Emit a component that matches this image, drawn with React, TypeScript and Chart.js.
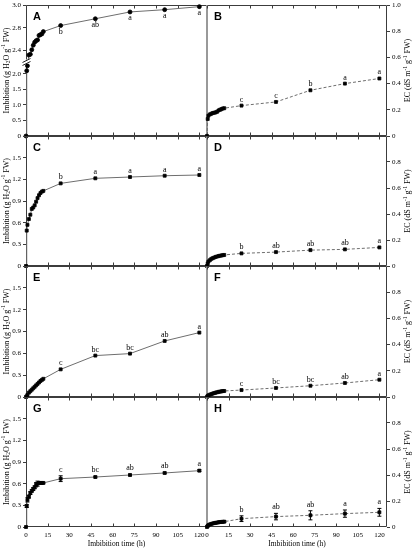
import React, { useEffect, useRef } from 'react';
import { Chart, registerables } from 'chart.js';
Chart.register(...registerables);

// ---------- data ----------
const hours = [0, 0.5, 1, 2, 3, 4, 5, 6, 7, 8, 9, 10, 11, 12, 24, 48, 72, 96, 120];
const xTickValues = [0, 15, 30, 45, 60, 75, 90, 105, 120];

const imbibitionA = [0, 2.1, 2.26, 2.34, 2.35, 2.41, 2.47, 2.51, 2.53, 2.54, 2.6, 2.61, 2.62, 2.65, 2.73, 2.82, 2.91, 2.94, 2.98];
const ecB = [0, 0.13, 0.155, 0.165, 0.17, 0.175, 0.178, 0.18, 0.185, 0.195, 0.2, 0.205, 0.21, 0.212, 0.232, 0.26, 0.349, 0.4, 0.439];
const imbibitionC = [0, 0.49, 0.57, 0.65, 0.71, 0.79, 0.81, 0.84, 0.89, 0.94, 0.98, 1.01, 1.03, 1.04, 1.144, 1.214, 1.232, 1.25, 1.26];
const ecD = [0, 0.02, 0.035, 0.045, 0.055, 0.06, 0.065, 0.07, 0.073, 0.076, 0.079, 0.081, 0.083, 0.085, 0.097, 0.107, 0.122, 0.128, 0.143];
const imbibitionE = [0, 0.01, 0.03, 0.06, 0.08, 0.1, 0.12, 0.14, 0.16, 0.18, 0.2, 0.22, 0.235, 0.25, 0.38, 0.569, 0.596, 0.77, 0.885];
const ecF = [0, 0.008, 0.012, 0.018, 0.022, 0.026, 0.03, 0.033, 0.036, 0.039, 0.041, 0.043, 0.045, 0.046, 0.053, 0.069, 0.086, 0.107, 0.132];
const imbibitionG = [0, 0.29, 0.376, 0.42, 0.47, 0.5, 0.525, 0.55, 0.585, 0.6, 0.61, 0.61, 0.61, 0.61, 0.669, 0.692, 0.72, 0.748, 0.78];
const ecH = [0, 0.008, 0.014, 0.02, 0.024, 0.027, 0.03, 0.032, 0.034, 0.036, 0.038, 0.039, 0.04, 0.041, 0.064, 0.08, 0.09, 0.103, 0.113];

const errG = [0, 0.02, 0.03, 0.02, 0.02, 0.015, 0.02, 0.02, 0.03, 0.035, 0.02, 0.015, 0.01, 0.01, 0.04, 0.01, 0.01, 0.01, 0.012];
const errH = [0, 0.003, 0.004, 0.004, 0.005, 0.005, 0.005, 0.006, 0.006, 0.006, 0.006, 0.006, 0.006, 0.007, 0.022, 0.025, 0.035, 0.028, 0.03];

const lettersA = ['b', 'ab', 'a', 'a', 'a'];
const lettersB = ['c', 'c', 'b', 'a', 'a'];
const lettersC = ['b', 'a', 'a', 'a', 'a'];
const lettersD = ['b', 'ab', 'ab', 'ab', 'a'];
const lettersE = ['c', 'bc', 'bc', 'ab', 'a'];
const lettersF = ['c', 'bc', 'bc', 'ab', 'a'];
const lettersG = ['c', 'bc', 'ab', 'ab', 'a'];
const lettersH = ['b', 'ab', 'ab', 'a', 'a'];

const tickValuesA = [0, 0.5, 1.0, 1.5, 2.0, 2.4, 2.7, 3.0];
const tickLabelsA = ['0', '0.5', '1.0', '1.5', '2.0', '2.4', '2.8', '3.0'];
const tickValuesImb = [0, 0.3, 0.6, 0.9, 1.2, 1.5, 1.8];
const tickLabelsImb = ['0', '0.3', '0.6', '0.9', '1.2', '1.5', ''];
const tickValuesEC = [0, 0.2, 0.4, 0.6, 0.8, 1.0];
const tickLabelsECTop = ['0', '0.2', '0.4', '0.6', '0.8', '1.0'];
const tickLabelsEC = ['0', '0.2', '0.4', '0.6', '0.8', ''];

type Seg = { t: string; k: number };
const imbTitle: Seg[] = [
  { t: 'Imbibition (g H', k: 0 }, { t: '2', k: -1 }, { t: 'O g', k: 0 }, { t: '-1', k: 1 }, { t: ' FW)', k: 0 },
];
const ecTitle: Seg[] = [
  { t: 'EC (dS m', k: 0 }, { t: '-1', k: 1 }, { t: ' g', k: 0 }, { t: '-1', k: 1 }, { t: ' FW)', k: 0 },
];
const xTitle = 'Imbibition time (h)';

// broken axis of panel A (lower part 0-2.x, upper part 2.4-3.0)
const brokenA = (v: number) => (v < 2.3 ? v : 2.753 + 2.4375 * (v - 2.4));
const ident = (v: number) => v;

const SERIF = '"Liberation Serif", "Times New Roman", serif';
const rowTops = [5, 136, 266, 397];
const rowBottoms = [136, 266, 397, 527];
const FIG_H = 550;

type Spec = {
  label: string; side: 'left' | 'right'; row: number; values: number[];
  map: (v: number) => number; yMax: number; tickValues: number[]; tickLabels: string[];
  letters: string[]; lettersBelow?: boolean; errors?: number[]; dashed: boolean;
  round: boolean; broken?: boolean; title: Seg[];
};

const specs: Spec[] = [
  { label: 'A', side: 'left', row: 0, values: imbibitionA, map: brokenA, yMax: 4.22, tickValues: tickValuesA, tickLabels: tickLabelsA, letters: lettersA, lettersBelow: true, dashed: false, round: true, broken: true, title: imbTitle },
  { label: 'B', side: 'right', row: 0, values: ecB, map: ident, yMax: 1.0, tickValues: tickValuesEC, tickLabels: tickLabelsECTop, letters: lettersB, dashed: true, round: false, title: ecTitle },
  { label: 'C', side: 'left', row: 1, values: imbibitionC, map: ident, yMax: 1.8, tickValues: tickValuesImb, tickLabels: tickLabelsImb, letters: lettersC, dashed: false, round: false, title: imbTitle },
  { label: 'D', side: 'right', row: 1, values: ecD, map: ident, yMax: 1.0, tickValues: tickValuesEC, tickLabels: tickLabelsEC, letters: lettersD, dashed: true, round: false, title: ecTitle },
  { label: 'E', side: 'left', row: 2, values: imbibitionE, map: ident, yMax: 1.8, tickValues: tickValuesImb, tickLabels: tickLabelsImb, letters: lettersE, dashed: false, round: false, title: imbTitle },
  { label: 'F', side: 'right', row: 2, values: ecF, map: ident, yMax: 1.0, tickValues: tickValuesEC, tickLabels: tickLabelsEC, letters: lettersF, dashed: true, round: false, title: ecTitle },
  { label: 'G', side: 'left', row: 3, values: imbibitionG, map: ident, yMax: 1.8, tickValues: tickValuesImb, tickLabels: tickLabelsImb, letters: lettersG, errors: errG, dashed: false, round: false, title: imbTitle },
  { label: 'H', side: 'right', row: 3, values: ecH, map: ident, yMax: 1.0, tickValues: tickValuesEC, tickLabels: tickLabelsEC, letters: lettersH, errors: errH, dashed: true, round: false, title: ecTitle },
];

// canvas geometry
const LEFT_CANVAS_X = 0, LEFT_CANVAS_W = 215, LEFT_PAD_R = 8;
const RIGHT_CANVAS_X = 199, RIGHT_CANVAS_W = 216, RIGHT_PAD_L = 8;
const PAD_V = 8;
const X_AXIS_H = FIG_H - rowBottoms[3];

function geom(s: Spec) {
  const top = rowTops[s.row] - PAD_V;
  const last = s.row === 3;
  const bottom = last ? FIG_H : rowBottoms[s.row] + PAD_V;
  return {
    x: s.side === 'left' ? LEFT_CANVAS_X : RIGHT_CANVAS_X,
    w: s.side === 'left' ? LEFT_CANVAS_W : RIGHT_CANVAS_W,
    y: top, h: bottom - top, last,
  };
}

function drawRich(ctx: CanvasRenderingContext2D, segs: Seg[], cx: number, cy: number, size: number) {
  ctx.save();
  ctx.translate(cx, cy);
  ctx.rotate(-Math.PI / 2);
  const small = size * 0.68;
  const widths = segs.map((s) => {
    ctx.font = `${s.k ? small : size}px ${SERIF}`;
    return ctx.measureText(s.t).width;
  });
  const total = widths.reduce((a, b) => a + b, 0);
  let x = -total / 2;
  ctx.textBaseline = 'middle';
  ctx.textAlign = 'left';
  ctx.fillStyle = '#000';
  segs.forEach((s, i) => {
    ctx.font = `${s.k ? small : size}px ${SERIF}`;
    const dy = s.k === 1 ? -size * 0.33 : s.k === -1 ? size * 0.3 : 0;
    ctx.fillText(s.t, x, dy);
    x += widths[i];
  });
  ctx.restore();
}

function makeDeco(s: Spec, last: boolean) {
  return {
    id: 'deco' + s.label,
    beforeDatasetsDraw(chart: any) {
      const { ctx, chartArea: a, scales } = chart;
      const xs = scales.x, ys = scales.y;
      ctx.save();
      ctx.lineWidth = 1;
      const L = Math.round(a.left) + 0.5, R = Math.round(a.right) - 0.5;
      const T = Math.round(a.top) + 0.5, B = Math.round(a.bottom) - 0.5;
      ctx.strokeStyle = '#3c3c3c';
      ctx.beginPath();
      ctx.moveTo(L, T); ctx.lineTo(R, T);
      ctx.moveTo(L, B); ctx.lineTo(R, B);
      if (s.side === 'left') { ctx.moveTo(L, T); ctx.lineTo(L, B); }
      else { ctx.moveTo(R, T); ctx.lineTo(R, B); }
      ctx.stroke();
      // middle divider (lighter, shared by both panels)
      ctx.strokeStyle = '#999';
      ctx.beginPath();
      if (s.side === 'left') { ctx.moveTo(R, T); ctx.lineTo(R, B); }
      else { ctx.moveTo(L, T); ctx.lineTo(L, B); }
      ctx.stroke();
      ctx.strokeStyle = '#3c3c3c';
      ctx.beginPath();
      xTickValues.forEach((v) => {
        const px = Math.round(xs.getPixelForValue(v)) + 0.5;
        ctx.moveTo(px, T); ctx.lineTo(px, T + 3);
        ctx.moveTo(px, B); ctx.lineTo(px, B - 3);
      });
      ctx.stroke();
      if (s.errors) {
        ctx.strokeStyle = '#000';
        ctx.beginPath();
        s.errors.forEach((e, i) => {
          if (!e) return;
          const px = xs.getPixelForValue(hours[i]);
          const y1 = ys.getPixelForValue(s.map(s.values[i] + e));
          const y2 = ys.getPixelForValue(s.map(s.values[i] - e));
          ctx.moveTo(px, y1); ctx.lineTo(px, y2);
          ctx.moveTo(px - 2, y1); ctx.lineTo(px + 2, y1);
          ctx.moveTo(px - 2, y2); ctx.lineTo(px + 2, y2);
        });
        ctx.stroke();
      }
      ctx.restore();
    },
    afterDatasetsDraw(chart: any) {
      const { ctx, chartArea: a, scales } = chart;
      const xs = scales.x, ys = scales.y;
      ctx.save();
      ctx.fillStyle = '#000';
      // significance letters
      ctx.font = `8px ${SERIF}`;
      ctx.textAlign = 'center';
      const n = hours.length;
      s.letters.forEach((t, j) => {
        const i = n - s.letters.length + j;
        const px = xs.getPixelForValue(hours[i]);
        const v = s.values[i] + (s.errors ? s.errors[i] : 0);
        const py = ys.getPixelForValue(s.map(v));
        if (s.lettersBelow) {
          ctx.textBaseline = 'top';
          ctx.fillText(t, px, py + 2);
        } else {
          ctx.textBaseline = 'alphabetic';
          ctx.fillText(t, px, py - 4);
        }
      });
      // x axis labels + title (bottom row only)
      if (last) {
        ctx.font = `7px ${SERIF}`;
        ctx.textAlign = 'center';
        ctx.textBaseline = 'middle';
        xTickValues.forEach((v) => {
          ctx.fillText(String(v), xs.getPixelForValue(v), a.bottom + 8.5);
        });
        ctx.font = `7.5px ${SERIF}`;
        ctx.fillText(xTitle, (a.left + a.right) / 2, a.bottom + 17.5);
      }
      // panel label
      ctx.font = `bold 11px "Liberation Sans", Arial, sans-serif`;
      ctx.textAlign = 'left';
      ctx.textBaseline = 'alphabetic';
      ctx.fillText(s.label, a.left + 7, a.top + 15);
      // broken-axis mark
      if (s.broken) {
        const yb = ys.getPixelForValue(2.4);
        const L = Math.round(a.left) + 0.5;
        ctx.fillStyle = '#fff';
        ctx.fillRect(L - 3, yb - 2, 6, 4);
        ctx.strokeStyle = '#222';
        ctx.lineWidth = 1;
        ctx.beginPath();
        ctx.moveTo(L - 4, yb + 1); ctx.lineTo(L + 4, yb - 3);
        ctx.moveTo(L - 4, yb + 4); ctx.lineTo(L + 4, yb);
        ctx.stroke();
      }
      // y title
      const cy = (a.top + a.bottom) / 2;
      const cx = s.side === 'left' ? a.left - 19.5 : a.right + 21;
      drawRich(ctx, s.title, cx, cy, 8);
      ctx.restore();
    },
  };
}

function Panel({ spec }: { spec: Spec }) {
  const ref = useRef<HTMLCanvasElement | null>(null);
  const g = geom(spec);
  useEffect(() => {
    if (!ref.current) return;
    const font = { family: SERIF, size: 7 };
    const pts = hours.map((h, i) => ({ x: h, y: spec.map(spec.values[i]) }));
    const chart = new Chart(ref.current, {
      type: 'line',
      data: {
        datasets: [
          {
            data: pts,
            borderColor: '#6e6e6e',
            borderWidth: 1,
            borderDash: spec.dashed ? [3, 2] : [],
            pointStyle: spec.round ? 'circle' : 'rect',
            pointRadius: spec.round ? 2 : 2.1,
            pointBorderWidth: 0.8,
            pointBackgroundColor: '#000',
            pointBorderColor: '#000',
            tension: 0,
            fill: false,
            clip: false as any,
          } as any,
        ],
      },
      options: {
        animation: false,
        responsive: false,
        events: [],
        layout: {
          padding: {
            left: spec.side === 'left' ? 0 : RIGHT_PAD_L,
            right: spec.side === 'left' ? LEFT_PAD_R : 0,
            top: PAD_V,
            bottom: g.last ? X_AXIS_H : PAD_V,
          },
        },
        plugins: { legend: { display: false }, tooltip: { enabled: false } },
        scales: {
          x: {
            type: 'linear',
            min: 0,
            max: 125.3,
            display: false,
          },
          y: {
            type: 'linear',
            position: spec.side,
            min: 0,
            max: spec.yMax,
            afterBuildTicks: (sc: any) => { sc.ticks = spec.tickValues.map((v) => ({ value: spec.map(v) })); },
            afterFit: (sc: any) => { sc.width = spec.side === 'left' ? 26 : 28; },
            ticks: { autoSkip: false, padding: 2, font, color: '#000', callback: (_v: any, i: number) => spec.tickLabels[i] },
            grid: { display: true, drawOnChartArea: false, drawTicks: true, tickLength: 3, color: '#3c3c3c' },
            border: { display: false },
          },
        },
      } as any,
      plugins: [makeDeco(spec, g.last)],
    });
    return () => chart.destroy();
  }, []);
  return (
    <canvas
      ref={ref}
      width={g.w}
      height={g.h}
      style={{ position: 'absolute', left: g.x, top: g.y, width: g.w, height: g.h }}
    />
  );
}

export default function App() {
  return (
    <div style={{ position: 'fixed', left: 0, top: 0, width: 415, height: 550, background: '#fff', overflow: 'hidden' }}>
      {specs.map((s) => (
        <Panel key={s.label} spec={s} />
      ))}
    </div>
  );
}
